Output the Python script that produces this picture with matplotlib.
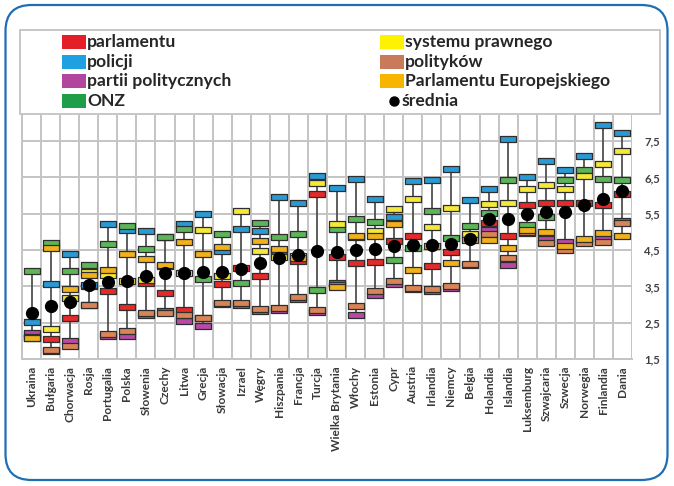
import numpy as np
import matplotlib
matplotlib.use("Agg")
import matplotlib.pyplot as plt
from matplotlib.path import Path
from matplotlib.patches import FancyBboxPatch, Rectangle
from matplotlib.lines import Line2D

countries = ["Ukraina", "Bułgaria", "Chorwacja", "Rosja", "Portugalia", "Polska",
             "Słowenia", "Czechy", "Litwa", "Grecja", "Słowacja", "Izrael", "Węgry",
             "Hiszpania", "Francja", "Turcja", "Wielka Brytania", "Włochy", "Estonia",
             "Cypr", "Austria", "Irlandia", "Niemcy", "Belgia", "Holandia", "Islandia",
             "Luksemburg", "Szwajcaria", "Szwecja", "Norwegia", "Finlandia", "Dania"]

parlamentu = [2.2, 2.06, 2.62, 3.52, 3.38, 2.92, 3.58, 3.33, 2.84, 2.62, 3.56, 4.02, 3.8,
              4.47, 4.2, 6.05, 4.3, 4.14, 4.17, 4.74, 4.89, 4.06, 4.45, 4.9, 5.25, 4.88,
              5.73, 5.8, 5.8, 5.8, 5.75, 6.05]
policji = [2.52, 3.56, 4.39, 3.55, 5.23, 5.05, 5.02, 4.85, 5.21, 5.5, 4.48, 5.08, 5.03,
           5.96, 5.8, 6.53, 6.2, 6.46, 5.9, 5.4, 6.41, 6.44, 6.74, 5.89, 6.18, 7.55,
           6.5, 6.95, 6.72, 7.1, 7.95, 7.73]
partii = [2.22, 1.71, 1.99, 2.99, 2.13, 2.13, 2.71, 2.81, 2.56, 2.4, 3.02, 3.0, 2.82,
          2.86, 3.15, 2.8, 3.58, 2.71, 3.25, 3.57, 3.42, 3.36, 3.46, 4.09, 5.05, 4.08,
          4.97, 4.8, 4.72, 4.75, 4.82, 5.29]
onz = [3.92, 4.7, 3.92, 4.09, 4.68, 5.16, 4.54, 4.87, 5.08, 3.71, 4.93, 3.6, 5.24,
       4.86, 4.94, 3.4, 5.07, 5.35, 5.27, 4.24, 4.57, 5.58, 4.83, 5.17, 5.52, 6.43,
       5.2, 5.4, 6.43, 6.7, 6.45, 6.42]
systemu = [2.08, 2.33, 3.17, 3.9, 3.82, 3.66, 3.68, 4.07, 3.87, 5.04, 3.8, 5.58, 4.48,
           4.3, 4.33, 6.35, 5.22, 4.86, 5.02, 5.62, 5.91, 5.14, 5.67, 4.95, 5.76, 5.8,
           6.18, 6.3, 6.17, 6.55, 6.87, 7.22]
politykow = [2.1, 1.74, 1.85, 3.0, 2.2, 2.27, 2.76, 2.78, 2.7, 2.64, 3.05, 3.05, 2.88,
             2.9, 3.22, 2.85, 3.55, 2.95, 3.36, 3.65, 3.45, 3.43, 3.5, 4.12, 4.95, 4.29,
             5.0, 4.7, 4.5, 4.7, 4.72, 5.25]
parl_eur = [2.08, 4.56, 3.43, 3.82, 3.96, 4.38, 4.26, 4.09, 4.72, 4.4, 4.58, np.nan, 4.75,
            4.54, 4.28, np.nan, 3.47, 4.9, 4.88, 5.23, 3.95, 4.62, 4.15, 4.77, 4.78, 4.56,
            5.05, 5.0, 4.6, 4.8, 4.97, 4.88]
srednia = [2.78, 2.96, 3.06, 3.55, 3.62, 3.64, 3.8, 3.86, 3.86, 3.89, 3.9, 3.97, 4.15,
           4.27, 4.37, 4.47, 4.46, 4.5, 4.54, 4.6, 4.63, 4.65, 4.68, 4.8, 5.35, 5.37,
           5.5, 5.55, 5.55, 5.75, 5.9, 6.13]

series_names = ["parlamentu", "policji", "partii politycznych", "ONZ",
                "systemu prawnego", "polityków", "Parlamentu Europejskiego"]
series_vals = [parlamentu, policji, partii, onz, systemu, politykow, parl_eur]
series_cols = ["#E52A2A", "#2A9AD4", "#B84AA6", "#5DB55A", "#F4E83A", "#D98457", "#F0B21C"]
legend_cols = ["#E41E26", "#1FA0E0", "#B0469E", "#1E9E48", "#FFF200", "#C97A5A", "#F7B500"]
yticks = [1.5, 2.5, 3.5, 4.5, 5.5, 6.5, 7.5]
ytick_labels = ["1,5", "2,5", "3,5", "4,5", "5,5", "6,5", "7,5"]

W, H = 674, 486
fig = plt.figure(figsize=(W / 100, H / 100), dpi=100)
fig.patch.set_facecolor("white")

# outer rounded blue frame
frame = FancyBboxPatch((0.055, 0.06), 6.62, 4.75,
                       boxstyle="round,pad=0,rounding_size=0.26",
                       transform=fig.dpi_scale_trans, facecolor="none",
                       edgecolor="#1F6EB4", linewidth=1.6, zorder=0)
fig.patches.append(frame)

ax = fig.add_axes([22 / W, 1 - 359 / H, 610 / W, 244 / H])
ax.set_facecolor("white")
x = np.arange(len(countries))
ax.set_xlim(-0.5, len(countries) - 0.5)
ax.set_ylim(1.5, 1.5 + 244 / 36.3)

# grid
for b in np.arange(-0.5, len(countries) + 0.5, 1.0):
    ax.axvline(b, color="#C4C4C4", lw=1.4, zorder=0)
for yv in yticks:
    ax.axhline(yv, color="#C4C4C4", lw=1.4, zorder=0)

vals = np.array(series_vals, dtype=float)
mins = np.nanmin(vals, axis=0)
maxs = np.nanmax(vals, axis=0)
ax.vlines(x, mins, maxs, color="#505050", lw=1.3, zorder=2)

hh = 0.19
rect = Path([(-0.5, -hh), (0.5, -hh), (0.5, hh), (-0.5, hh), (-0.5, -hh)],
            [Path.MOVETO, Path.LINETO, Path.LINETO, Path.LINETO, Path.CLOSEPOLY])
for name, v, c in zip(series_names, series_vals, series_cols):
    ax.plot(x, v, linestyle="none", marker=rect, markersize=11.5,
            markerfacecolor=c, markeredgecolor="#2E2E2E", markeredgewidth=0.9,
            zorder=3)
ax.plot(x, srednia, linestyle="none", marker="o", markersize=8.5,
        color="black", zorder=4)

ax.set_xticks(x)
ax.set_xticklabels(countries, rotation=90, fontsize=8.6, fontweight="bold",
                   color="#3A3A3A", family="Lato")
ax.yaxis.tick_right()
ax.set_yticks(yticks)
ax.set_yticklabels(ytick_labels, fontsize=8.2, color="#404040", family="Lato",
                   fontweight="bold")
ax.tick_params(axis="both", length=0, pad=5)
ax.tick_params(axis="y", pad=9)
for s in ["top", "right"]:
    ax.spines[s].set_visible(False)
ax.spines["left"].set_color("#C4C4C4")
ax.spines["bottom"].set_color("#C4C4C4")
ax.spines["left"].set_linewidth(1.4)
ax.spines["bottom"].set_linewidth(1.4)

# legend box
fig.patches.append(Rectangle((20 / W, 1 - 114 / H), 640 / W, 84 / H,
                             transform=fig.transFigure, facecolor="white",
                             edgecolor="#BDBDBD", linewidth=1.2, zorder=1))
rows = [42, 62, 81, 101]
col_patch_x = [62, 380]
col_text_x = [87, 405]
for i, (name, c) in enumerate(zip(series_names, legend_cols)):
    col = 0 if i < 4 else 1
    row = rows[i % 4]
    fig.patches.append(Rectangle((col_patch_x[col] / W, 1 - (row + 7) / H),
                                 24 / W, 14 / H, transform=fig.transFigure,
                                 facecolor=c, edgecolor="none", zorder=2))
    fig.text(col_text_x[col] / W, 1 - row / H, name, fontsize=12.6, family="Lato",
             fontweight="bold", color="#262626", va="center", ha="left")
fig.lines.append(Line2D([394 / W], [1 - rows[3] / H], marker="o", markersize=6.5,
                        color="black", transform=fig.transFigure))
fig.text(402 / W, 1 - rows[3] / H, "średnia", fontsize=12.6, family="Lato",
         fontweight="bold", color="#262626", va="center", ha="left")

fig.savefig("out.png", dpi=100)
